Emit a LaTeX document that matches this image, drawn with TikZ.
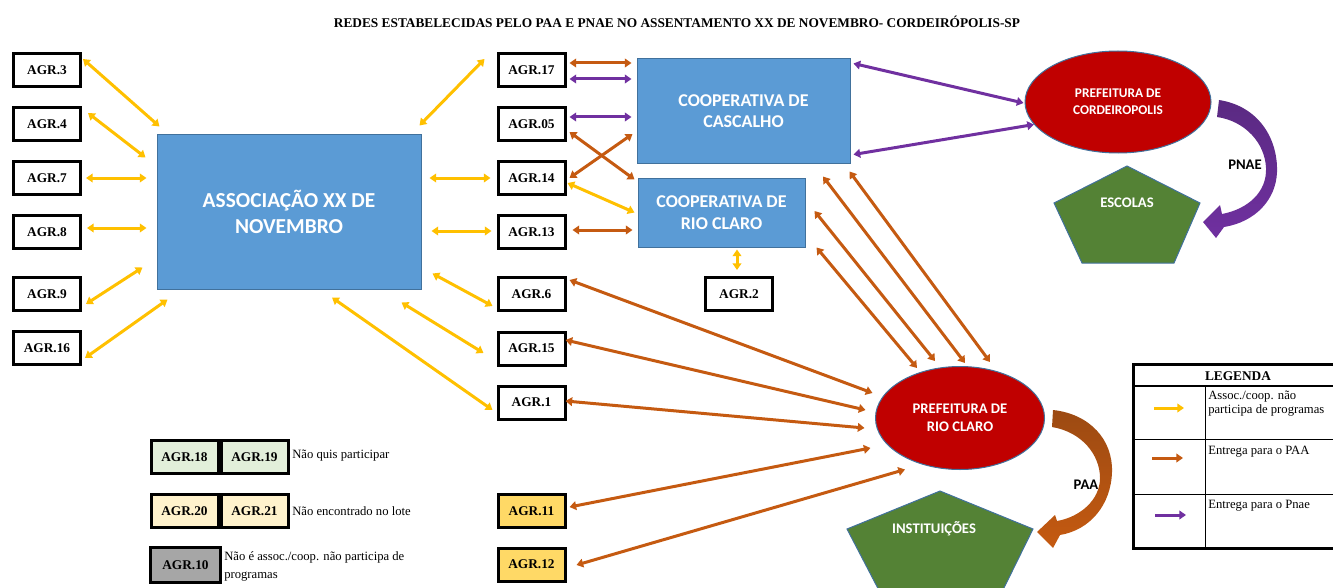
\documentclass[tikz,border=0pt]{standalone}
\usepackage{fontspec}
\setmainfont{Liberation Serif}
\newfontfamily\calfont{Carlito}
\usetikzlibrary{arrows.meta,shapes.geometric,calc}
\definecolor{cyel}{HTML}{FFC000}
\definecolor{corg}{HTML}{C55A11}
\definecolor{cpur}{HTML}{7030A0}
\definecolor{cpurd}{HTML}{5A2A82}
\definecolor{corgd}{HTML}{9C4A12}
\definecolor{cblue}{HTML}{5B9BD5}
\definecolor{cbord}{HTML}{41719C}
\definecolor{cred}{HTML}{C00000}
\definecolor{cgreen}{HTML}{548235}
\definecolor{cgrl}{HTML}{E2EFDA}
\definecolor{cyll}{HTML}{FFF2CC}
\definecolor{cyld}{HTML}{FFD966}
\definecolor{cgray}{HTML}{A6A6A6}
\tikzset{
  >={Triangle[length=5pt,width=6.5pt]},
  agr/.style={draw=black, line width=2.25pt, fill=white, minimum width=50.25pt, minimum height=24.75pt, inner sep=0pt, font=\bfseries\fontsize{10}{12}\selectfont},
  bluebox/.style={draw=cbord, line width=0.75pt, fill=cblue, text=white, align=center, inner sep=0pt},
  ell/.style={ellipse, draw=cbord, line width=0.75pt, fill=cred, text=white, align=center, inner sep=0pt},
  pent/.style={draw=cbord, line width=0.75pt, fill=cgreen},
  conn/.style={line width=2.25pt, <->},
  yel/.style={conn, draw=cyel},
  ora/.style={conn, draw=corg},
  pur/.style={conn, draw=cpur},
  expl/.style={inner sep=0pt, align=left, font=\fontsize{9.5}{13.5}\selectfont},
  legtxt/.style={inner sep=0pt, align=left, anchor=north west, font=\fontsize{9.5}{10.5}\selectfont},
  bigl/.style={font=\calfont\bfseries\fontsize{11}{13}\selectfont}
}
\begin{document}
\begin{tikzpicture}[x=0.75pt,y=-0.75pt]
\useasboundingbox (0,0) rectangle (1333,588);
\clip (0,0) rectangle (1333,588);

% title
\node[font=\bfseries\fontsize{10}{12}\selectfont] (title) at (677,22) {REDES ESTABELECIDAS PELO PAA E PNAE NO ASSENTAMENTO XX DE NOVEMBRO- CORDEIRÓPOLIS-SP};

% left column
\node[agr] (a3) at (47,70) {AGR.3};
\node[agr] (a4) at (47,124) {AGR.4};
\node[agr] (a7) at (47,178) {AGR.7};
\node[agr] (a8) at (47,232) {AGR.8};
\node[agr] (a9) at (47,294) {AGR.9};
\node[agr] (a16) at (47,348) {AGR.16};

% right column
\node[agr] (a17) at (531.5,70) {AGR.17};
\node[agr] (a05) at (531.5,124) {AGR.05};
\node[agr] (a14) at (531.5,178) {AGR.14};
\node[agr] (a13) at (531.5,232) {AGR.13};
\node[agr] (a6) at (531.5,294) {AGR.6};
\node[agr] (a15) at (531.5,348.5) {AGR.15};
\node[agr] (a1) at (531.5,402.5) {AGR.1};
\node[agr, fill=cyld] (a11) at (531.5,511) {AGR.11};
\node[agr, fill=cyld] (a12) at (531.5,564.5) {AGR.12};
\node[agr] (a2) at (739,294) {AGR.2};

% main boxes
\node[bluebox, minimum width=198pt, minimum height=115.5pt, font=\calfont\bfseries\fontsize{16}{20}\selectfont] (assoc) at (289,212) {ASSOCIAÇÃO XX DE\\NOVEMBRO};
\node[bluebox, minimum width=159.75pt, minimum height=78pt, font=\calfont\bfseries\fontsize{13.5}{16.25}\selectfont] (casc) at (743.5,111) {COOPERATIVA DE\\CASCALHO};
\node[bluebox, minimum width=125.25pt, minimum height=51.75pt, font=\calfont\bfseries\fontsize{13.5}{16.25}\selectfont] (rcoop) at (721.5,212.5) {COOPERATIVA DE\\RIO CLARO};

\node[ell, minimum width=139.5pt, minimum height=76.5pt, font=\calfont\bfseries\fontsize{10}{13}\selectfont] (cord) at (1118,102) {PREFEITURA DE\\CORDEIROPOLIS};
\node[ell, minimum width=126.75pt, minimum height=77.25pt, font=\calfont\bfseries\fontsize{11}{13.75}\selectfont] (rc) at (960,418) {PREFEITURA DE\\RIO CLARO};

% pentagons
\draw[pent] (1127,166) -- (1200,203) -- (1174,263) -- (1082,263) -- (1054,203) -- cycle;
\coordinate (escR) at (1200,203);
\node[bigl, text=white] (esc) at (1127,203) {ESCOLAS};
\draw[pent] (940,491) -- (1033,529) -- (998,600) -- (884,600) -- (847,529) -- cycle;
\coordinate (instR) at (1033,529);
\node[bigl, text=white] (inst) at (934,529) {INSTITUIÇÕES};

% yellow arrows left
\draw[yel] ($(a3.north east)+(1,7)$) -- ($(assoc.north west)+(3,-8)$);
\draw[yel] ($(a4.north east)+(6,7)$) -- ($(assoc.north west)+(-11,23)$);
\draw[yel] ($(a7.east)+(4,0)$) -- ($(a7.east -| assoc.west)+(-10,0)$);
\draw[yel] ($(a8.east)+(5,-4)$) -- ($(a8.east -| assoc.west)+(-10,-4)$);
\draw[yel] ($(a9.east)+(4,10)$) -- ($(assoc.south west)+(-14,-22)$);
\draw[yel] ($(a16.east)+(3,10)$) -- ($(assoc.south west)+(11,10)$);

% yellow arrows right of association
\draw[yel] ($(a17.north west)+(-12,7)$) -- ($(assoc.north east)+(-2,-9)$);
\draw[yel] ($(a14.west -| assoc.east)+(8,0)$) -- ($(a14.west)+(-6,0)$);
\draw[yel] ($(a13.west -| assoc.east)+(10,-1)$) -- ($(a13.west)+(-5,-1)$);
\draw[yel] ($(assoc.south east)+(11,-16)$) -- ($(a6.south west)+(-4,-6)$);
\draw[yel] ($(assoc.south east)+(-20,13)$) -- ($(a15.west)+(-13,4.5)$);
\draw[yel] ($(assoc.south)+(43,8)$) -- ($(a1.west)+(-4,7.5)$);

% cooperative links
\draw[ora] ($(a17.east)+(3,-7)$) -- ($(a17.east -| casc.west)+(-5,-7)$);
\draw[pur] ($(a17.east)+(3,9)$) -- ($(a17.east -| casc.west)+(-5,9)$);
\draw[pur] ($(a05.east)+(3,-7)$) -- ($(a05.east -| casc.west)+(-5,-7)$);
\draw[ora] ($(a05.east)+(3,8)$) -- ($(rcoop.north west)+(-3,2)$);
\draw[ora] ($(a14.east)+(3,0)$) -- ($(casc.west)+(-4,23)$);
\draw[yel] ($(a14.east)+(1,5)$) -- ($(rcoop.west)+(-3,0)$);
\draw[ora] ($(a13.east)+(6,-2)$) -- ($(a13.east -| rcoop.west)+(-5,-2)$);
\draw[yel] ($(a2.north)+(-2,-6)$) -- ($(a2.north |- rcoop.south)+(-2,2)$);

% purple to Cordeiropolis
\draw[pur] ($(casc.north east)+(3,5)$) -- ($(cord.west)+(-1,1)$);
\draw[pur] ($(casc.south east)+(3,-9)$) -- (cord.195);

% diagonals to Rio Claro
\draw[ora] ($(casc.south)+(79.5,13)$) -- ($(rc.north)+(5,-3)$);
\draw[ora] ($(casc.south east)+(-1,8)$) -- ($(rc.north)+(30,-4)$);
\draw[ora] ($(rcoop.east)+(9,-1.5)$) -- ($(rc.north)+(-25,-5)$);
\draw[ora] ($(rcoop.south east)+(11,0)$) -- ($(rc.north)+(-43,2)$);

% left farmers to Rio Claro
\draw[ora] ($(a6.east)+(3,-14)$) -- ($(rc.west)+(-2.5,-25)$);
\draw[ora] ($(a15.east)+(-1,-8.5)$) -- ($(rc.west)+(-9.5,-8)$);
\draw[ora] ($(a1.east)+(-1,-1.5)$) -- ($(rc.west)+(-10.5,10)$);
\draw[ora] ($(a11.east)+(3,-4)$) -- ($(rc.west)+(-4.5,30)$);
\draw[ora] ($(a12.east)+(10,0.5)$) -- ($(rc.south)+(-55,-0.5)$);

% big curved arrows (drawn as tapering shapes)
\shade[top color=cpurd, bottom color=cpur]
  (1219,100) .. controls (1258,106) and (1278,138) .. (1277,172)
  .. controls (1276,200) and (1255,222) .. (1224,227)
  -- (1216,238) -- (1203,222) -- (1220,205) -- (1222,214)
  .. controls (1248,209) and (1267,192) .. (1266,168)
  .. controls (1265,143) and (1245,121) .. (1217,117) -- cycle;
\node[bigl] (pnae) at (1245,165) {PNAE};
\shade[top color=corgd, bottom color=corg]
  (1053,410) .. controls (1090,414) and (1113,440) .. (1112,472)
  .. controls (1111,505) and (1090,530) .. (1060,535)
  -- (1053,548) -- (1037,532) -- (1055,515) -- (1057,521)
  .. controls (1080,517) and (1100,500) .. (1100,478)
  .. controls (1100,455) and (1082,432) .. (1052,427) -- cycle;
\node[bigl] (paa) at (1086,485) {PAA};

% legend table
\draw[line width=2.25pt] (1133,364) rectangle (1345,548);
\draw[line width=2pt] (1133,386) -- (1345,386);
\draw[line width=0.75pt] (1133,439) -- (1345,439);
\draw[line width=0.75pt] (1133,494) -- (1345,494);
\draw[line width=0.75pt] (1205,386) -- (1205,548);
\node[font=\bfseries\fontsize{10}{12}\selectfont] (legh) at (1238,376) {LEGENDA};
\coordinate (ly1) at (1154,408); \coordinate (ly2) at (1184,408);
\coordinate (lo1) at (1152,458); \coordinate (lo2) at (1183,458);
\coordinate (lp1) at (1155,515); \coordinate (lp2) at (1186,515);
\draw[line width=2.25pt, draw=cyel, ->] (ly1) -- (ly2);
\draw[line width=2.25pt, draw=corg, ->] (lo1) -- (lo2);
\draw[line width=2.25pt, draw=cpur, ->] (lp1) -- (lp2);
\node[legtxt] (lt1) at (1208,391) {Assoc./coop. não\\participa de programas};
\node[legtxt] (lt2) at (1208,446) {Entrega para o PAA};
\node[legtxt] (lt3) at (1208,500) {Entrega para o Pnae};

% bottom-left legend
\node[agr, fill=cgrl] (a18) at (184.5,457) {AGR.18};
\node[agr, fill=cgrl] (a19) at (254.5,457) {AGR.19};
\node[expl, anchor=west] (e1) at (292,456) {Não quis participar};
\node[agr, fill=cyll] (a20) at (184.5,511) {AGR.20};
\node[agr, fill=cyll] (a21) at (254.5,511) {AGR.21};
\node[expl, anchor=west] (e2) at (292,511) {Não encontrado no lote};
\node[agr, fill=cgray, minimum width=52.5pt, minimum height=26.25pt] (a10) at (185.5,565) {AGR.10};
\node[expl, anchor=west, font=\fontsize{9.5}{13.5}\selectfont] (e3) at (224,566) {Não é assoc./coop. não participa de\\programas};
\end{tikzpicture}
\end{document}
